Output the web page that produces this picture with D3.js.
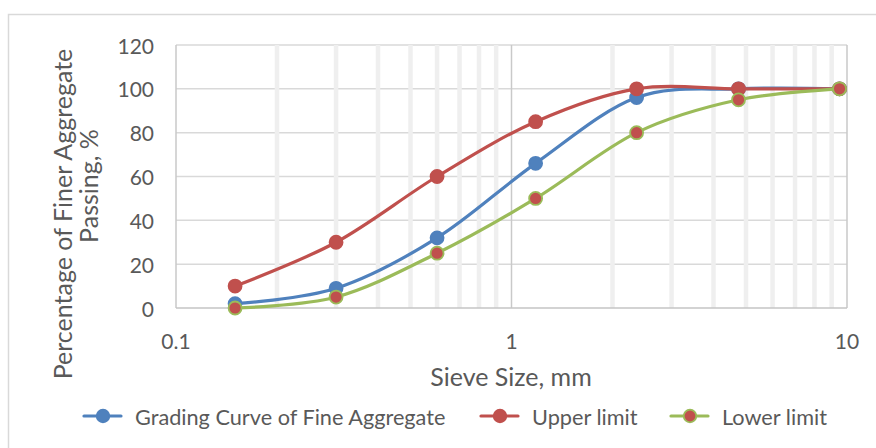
<!DOCTYPE html>
<html>
<head>
<meta charset="utf-8">
<script src="https://cdn.jsdelivr.net/npm/d3@7"></script>
<style>
  html, body { margin: 0; padding: 0; background: #fff; }
  svg { display: block; }
  text { font-family: Lato, "Open Sans", sans-serif; fill: #595959; }
</style>
</head>
<body>
<svg id="chart" width="876" height="448"></svg>
<script>
// Sieve sizes (mm) and percentage passing for each curve
const sieveSizes = [0.15, 0.3, 0.6, 1.18, 2.36, 4.75, 9.5];
const gradingCurve = [2, 9, 32, 66, 96, 100, 100];
const upperLimit = [10, 30, 60, 85, 100, 100, 100];
const lowerLimit = [0, 5, 25, 50, 80, 95, 100];

const seriesNames = ["Grading Curve of Fine Aggregate", "Upper limit", "Lower limit"];
const xTickValues = [0.1, 1, 10];
const xTickLabels = ["0.1", "1", "10"];
const yTickValues = [0, 20, 40, 60, 80, 100, 120];

const series = [
  { name: seriesNames[0], values: gradingCurve, line: "#4F81BD", fill: "#4F81BD", stroke: "#4F81BD" },
  { name: seriesNames[1], values: upperLimit, line: "#C0504D", fill: "#C0504D", stroke: "#C0504D" },
  { name: seriesNames[2], values: lowerLimit, line: "#9BBB59", fill: "#C0504D", stroke: "#9BBB59" }
];

const svg = d3.select("#chart");
const plot = { left: 176, right: 847, top: 45, bottom: 308 };

// Chart frame
svg.append("rect")
  .attr("x", 8.5).attr("y", 14.5)
  .attr("width", 900).attr("height", 500)
  .attr("fill", "#fff").attr("stroke", "#d9d9d9").attr("stroke-width", 1.5);

const x = d3.scaleLog().domain([0.1, 10]).range([plot.left, plot.right]);
const y = d3.scaleLinear().domain([0, 120]).range([plot.bottom, plot.top]);

// Horizontal gridlines
svg.append("g").selectAll("line").data(yTickValues.filter(v => v > 0)).join("line")
  .attr("x1", plot.left).attr("x2", plot.right)
  .attr("y1", d => y(d)).attr("y2", d => y(d))
  .attr("stroke", "#d9d9d9").attr("stroke-width", 1.5);

// Minor vertical gridlines (2..9 in each decade)
const minorTicks = [];
[0.1, 1].forEach(base => { for (let k = 2; k <= 9; k++) minorTicks.push(+(base * k).toFixed(2)); });
svg.append("g").selectAll("line").data(minorTicks).join("line")
  .attr("x1", d => x(d)).attr("x2", d => x(d))
  .attr("y1", plot.top).attr("y2", plot.bottom)
  .attr("stroke", "#efefef").attr("stroke-width", 4.5);

// Major vertical gridlines
svg.append("g").selectAll("line").data(xTickValues).join("line")
  .attr("x1", d => x(d)).attr("x2", d => x(d))
  .attr("y1", plot.top).attr("y2", plot.bottom)
  .attr("stroke", "#c9c9c9").attr("stroke-width", 1.5);

// Bottom axis line
svg.append("line")
  .attr("x1", plot.left).attr("x2", plot.right)
  .attr("y1", y(0)).attr("y2", y(0))
  .attr("stroke", "#c4c4c4").attr("stroke-width", 1.5);

// Axis tick labels
svg.append("g").selectAll("text").data(yTickValues).join("text")
  .attr("x", 154).attr("y", d => y(d))
  .attr("text-anchor", "end").attr("dominant-baseline", "central")
  .style("font-size", "21px")
  .text(d => d);

svg.append("g").selectAll("text").data(xTickValues).join("text")
  .attr("x", d => x(d)).attr("y", 340)
  .attr("text-anchor", "middle").attr("dominant-baseline", "central")
  .style("font-size", "21px")
  .text((d, i) => xTickLabels[i]);

// Axis titles
svg.append("text")
  .attr("x", 511).attr("y", 386)
  .attr("text-anchor", "middle")
  .style("font-size", "25px")
  .text("Sieve Size, mm");

svg.append("text")
  .attr("transform", "translate(72,214) rotate(-90)")
  .attr("text-anchor", "middle")
  .style("font-size", "25px")
  .text("Percentage of Finer Aggregate");
svg.append("text")
  .attr("transform", "translate(98,186) rotate(-90)")
  .attr("text-anchor", "middle")
  .style("font-size", "25px")
  .text("Passing, %");

// Smoothed series lines and markers
const line = d3.line()
  .x((d, i) => x(sieveSizes[i]))
  .y(d => y(d))
  .curve(d3.curveCardinal.tension(0));

series.forEach(s => {
  const g = svg.append("g");
  g.append("path")
    .attr("d", line(s.values))
    .attr("fill", "none").attr("stroke", s.line).attr("stroke-width", 3.2)
    .attr("stroke-linecap", "round");
  g.selectAll("circle").data(s.values).join("circle")
    .attr("cx", (d, i) => x(sieveSizes[i])).attr("cy", d => y(d))
    .attr("r", 6.5)
    .attr("fill", s.fill).attr("stroke", s.stroke).attr("stroke-width", 1.8);
});

// Legend
const legendX = [103, 500, 690];
const legendY = 416;
series.forEach((s, i) => {
  const g = svg.append("g").attr("transform", `translate(${legendX[i]},${legendY})`);
  g.append("line").attr("x1", -19).attr("x2", 18).attr("y1", 0).attr("y2", 0)
    .attr("stroke", s.line).attr("stroke-width", 3.2).attr("stroke-linecap", "round");
  g.append("circle").attr("r", 6.3)
    .attr("fill", s.fill).attr("stroke", s.stroke).attr("stroke-width", 1.8);
  g.append("text").attr("x", 32).attr("y", 1)
    .attr("dominant-baseline", "central")
    .style("font-size", "21.7px")
    .text(s.name);
});
</script>
</body>
</html>
